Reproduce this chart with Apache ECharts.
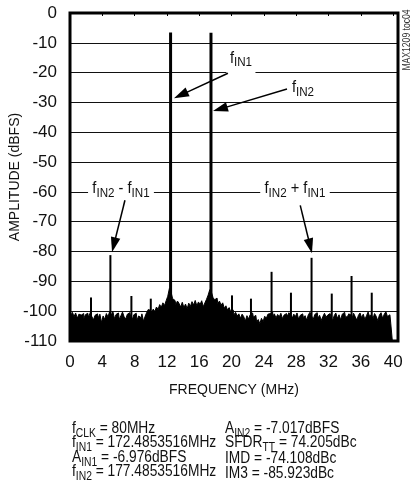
<!DOCTYPE html>
<html><head><meta charset="utf-8">
<script src="https://cdn.jsdelivr.net/npm/echarts@6/dist/echarts.min.js"></script>
<style>html,body{margin:0;padding:0;background:#fff}#c{width:412px;height:497px}</style>
</head><body><div id="c"></div>
<script>
// ---------- data ----------
const xTicks = [0, 4, 8, 12, 16, 20, 24, 28, 32, 36, 40];
const yTicks = [0, -10, -20, -30, -40, -50, -60, -70, -80, -90, -100, -110];
const noiseStepMHz = 0.2;
const noiseDb = [
 -97.8,-101.5,-100.4,-101.8,-100.6,-102.4,-101.0,-101.3,-100.8,-102.6,
 -101.2,-100.7,-102.0,-100.5,-101.8,-102.9,-101.4,-100.9,-102.2,-101.0,
 -103.8,-101.6,-102.8,-100.8,-101.9,-100.2,-101.4,-100.0,-102.5,-101.1,
 -100.6,-102.8,-101.5,-100.3,-101.9,-102.6,-101.0,-100.5,-101.6,-102.9,
 -101.2,-100.7,-103.0,-101.6,-102.2,-100.9,-103.4,-101.7,-100.4,-99.4,
 -99.8,-100.5,-99.3,-100.1,-98.6,-99.4,-97.8,-98.7,-97.2,-98.1,
 -96.5,-95.0,-92.4,-93.5,-95.8,-96.4,-97.8,-96.6,-97.4,-98.6,
 -97.0,-98.8,-97.6,-99.2,-97.3,-98.4,-96.8,-97.9,-96.4,-98.2,
 -96.9,-97.8,-96.5,-98.5,-97.2,-96.0,-94.6,-92.8,-93.6,-95.4,
 -96.2,-95.6,-97.4,-96.6,-98.0,-97.2,-99.0,-98.2,-99.6,-98.8,
 -100.2,-99.6,-101.2,-100.4,-101.6,-100.9,-102.4,-101.0,-101.8,-103.3,
 -101.5,-102.6,-101.2,-100.6,-102.0,-101.4,-103.6,-102.8,-104.2,-102.4,
 -103.5,-101.7,-102.4,-101.0,-100.8,-100.4,-101.6,-100.9,-102.3,-101.1,
 -101.9,-100.7,-102.5,-101.3,-100.8,-101.7,-100.5,-101.2,-102.4,-101.0,
 -101.8,-100.6,-102.7,-101.4,-100.9,-102.2,-101.5,-103.0,-101.2,-100.4,
 -101.6,-102.8,-101.1,-100.5,-102.3,-101.4,-103.1,-101.8,-100.7,-102.0,
 -101.3,-100.8,-101.9,-103.2,-101.5,-100.6,-102.4,-101.2,-102.9,-101.0,
 -100.4,-102.1,-101.6,-100.9,-101.3,-102.6,-100.7,-101.8,-103.0,-101.4,
 -100.6,-102.2,-101.0,-102.8,-101.5,-100.3,-101.9,-101.1,-102.5,-100.8,
 -101.7,-103.2,-101.3,-100.5,-102.4,-101.0,-100.2,-101.8,-101.2,-104.0,
 -110.0
];
const spurFreq = [2.6, 5.0, 7.6, 10.0, 12.45, 17.45, 20.05, 22.4, 24.95, 27.35, 29.9, 32.4, 34.85, 37.35];
const spurDb   = [-95.4, -81.2, -94.9, -95.8, -6.5, -6.6, -94.7, -95.8, -86.8, -93.8, -82.1, -94.1, -88.2, -93.8];

// annotations (data coordinates)
const labelText = ['{m|f}{s|IN1}', '{m|f}{s|IN2}', '{m|f}{s|IN2}{m| - f}{s|IN1}', '{m|f}{s|IN2}{m| + f}{s|IN1}'];
const labelAt   = [[21.16, -16.5], [28.84, -25.5], [6.31, -59.4], [27.85, -59.4]];
const arrowFrom = [[19.55, -20.2], [26.86, -25.5], [6.8, -62.8], [28.5, -64.5]];
const arrowTo   = [[12.87, -28.6], [17.7, -32.9], [5.2, -80.2], [29.95, -80.6]];

const notesLeft  = ['{m|f}{s|CLK}{m| = 80MHz}', '{m|f}{s|IN1}{m| = 172.4853516MHz}', '{m|A}{s|IN1}{m| = -6.976dBFS}', '{m|f}{s|IN2}{m| = 177.4853516MHz}'];
const notesRight = ['{m|A}{s|IN2}{m| = -7.017dBFS}', '{m|SFDR}{s|TT}{m| = 74.205dBc}', '{m|IMD = -74.108dBc}', '{m|IM3 = -85.923dBc}'];

// ---------- font ----------
function hasFont(name){
  const c = document.createElement('canvas').getContext('2d');
  const s = 'MMMMWWiiiillll0123456789';
  c.font = '40px monospace'; const a = c.measureText(s).width;
  c.font = "40px '" + name + "', monospace"; const b = c.measureText(s).width;
  return a !== b;
}
const NARROW = hasFont('Liberation Sans Narrow');
const FF = NARROW ? "'Liberation Sans Narrow', 'Liberation Sans', sans-serif" : "'Liberation Sans', sans-serif";
const SX = NARROW ? 1 : 0.86;          // horizontal squeeze for free text to mimic a narrow face
const TICK_FS = NARROW ? 18 : 17;
const TITLE_FS = NARROW ? 17 : 14;
const TXT = '#111';

const noiseData = noiseDb.map((v, i) => [+(i * noiseStepMHz).toFixed(2), v]);
const spurData = spurFreq.map((f, i) => [f, spurDb[i]]);

const chart = echarts.init(document.getElementById('c'), null, {renderer: 'canvas'});
chart.setOption({
  animation: false,
  backgroundColor: '#fff',
  grid: {left: 70, right: 14, top: 13, bottom: 156, show: true, borderColor: '#000', borderWidth: 3,
         backgroundColor: 'transparent', z: 10, containLabel: false, outerBoundsMode: 'none'},
  xAxis: {
    type: 'value', min: 0, max: 40.6, interval: 4,
    name: 'FREQUENCY (MHz)', nameLocation: 'middle', nameGap: 42, nameMoveOverlap: false,
    nameTextStyle: {fontFamily: FF, fontSize: TITLE_FS, color: TXT},
    axisLine: {show: false},
    axisTick: {show: true, length: 3, lineStyle: {color: '#000', width: 1}, customValues: xTicks},
    axisLabel: {fontFamily: FF, fontSize: TICK_FS, color: TXT, margin: 13, customValues: xTicks},
    splitLine: {show: false}
  },
  yAxis: {
    type: 'value', min: -110, max: 0, interval: 10,
    name: 'AMPLITUDE (dBFS)', nameLocation: 'middle', nameGap: 48, nameRotate: 90, nameMoveOverlap: false,
    nameTextStyle: {fontFamily: FF, fontSize: TITLE_FS, color: TXT},
    axisLine: {show: false}, axisTick: {show: false},
    axisLabel: {fontFamily: FF, fontSize: TICK_FS, color: TXT, margin: 13, customValues: yTicks},
    splitLine: {show: true, lineStyle: {color: '#111', width: 1}}
  },
  series: [
    {
      type: 'line', data: noiseData, step: 'middle', symbol: 'none', z: 3,
      lineStyle: {color: '#000', width: 1}, areaStyle: {color: '#000', opacity: 1, origin: 'start'}
    },
    {
      type: 'custom', data: spurData, z: 4, encode: {x: 0, y: 1},
      renderItem: function(params, api){
        const f = api.value(0), db = api.value(1);
        const top = api.coord([f, db]);
        const bot = api.coord([f, -110]);
        const w = db > -50 ? 3 : 2;
        return {type: 'rect', shape: {x: top[0] - w / 2, y: top[1], width: w, height: bot[1] - top[1]}, style: {fill: '#000'}};
      }
    }
  ]
});

const rich = {
  m: {fontFamily: FF, fontSize: 16, fill: TXT, verticalAlign: 'top'},
  s: {fontFamily: FF, fontSize: 12, fill: TXT, verticalAlign: 'bottom', padding: [7, 0, 0, 0]}
};
const richLbl = {
  m: {fontFamily: FF, fontSize: 17, fill: TXT, verticalAlign: 'top'},
  s: {fontFamily: FF, fontSize: 13.5, fill: TXT, verticalAlign: 'bottom', padding: [6, 0, 0, 0]}
};

const g = [];
const px = p => chart.convertToPixel({gridIndex: 0}, p);
labelText.forEach((t, i) => {
  const p = px(labelAt[i]);
  g.push({type: 'text', x: p[0], y: p[1], z: 20, scaleX: SX,
    style: {text: t, rich: richLbl, align: 'center', verticalAlign: 'middle', backgroundColor: '#fff', padding: i === 0 ? [1, 4, 6, 4] : [0, 5, 0, 5]}});
});
arrowFrom.forEach((a, i) => {
  const A = px(a), B = px(arrowTo[i]);
  const dx = B[0] - A[0], dy = B[1] - A[1], L = Math.hypot(dx, dy);
  const ux = dx / L, uy = dy / L, nx = -uy, ny = ux;
  const HL = 15, HW = 4.8;
  const bx = B[0] - ux * HL, by = B[1] - uy * HL;
  g.push({type: 'line', z: 21, shape: {x1: A[0], y1: A[1], x2: bx + ux, y2: by + uy}, style: {stroke: '#000', lineWidth: 1.5}});
  g.push({type: 'polygon', z: 21, shape: {points: [[B[0], B[1]], [bx + nx * HW, by + ny * HW], [bx - nx * HW, by - ny * HW]]}, style: {fill: '#000'}});
});
const rowY = [430, 444.5, 459, 473.5];
notesLeft.forEach((t, i) => g.push({type: 'text', x: 72, y: rowY[i], z: 20, scaleX: SX, style: {text: t, rich: rich, align: 'left', verticalAlign: 'middle'}}));
notesRight.forEach((t, i) => g.push({type: 'text', x: 225, y: rowY[i], z: 20, scaleX: SX, style: {text: t, rich: rich, align: 'left', verticalAlign: 'middle'}}));
g.push({type: 'text', x: 407, y: 40, rotation: Math.PI / 2, z: 20, scaleX: SX,
  style: {text: 'MAX1209 toc04', fontFamily: FF, fontSize: 10, fill: '#333', align: 'center', verticalAlign: 'middle'}});
chart.setOption({graphic: g});
</script></body></html>
